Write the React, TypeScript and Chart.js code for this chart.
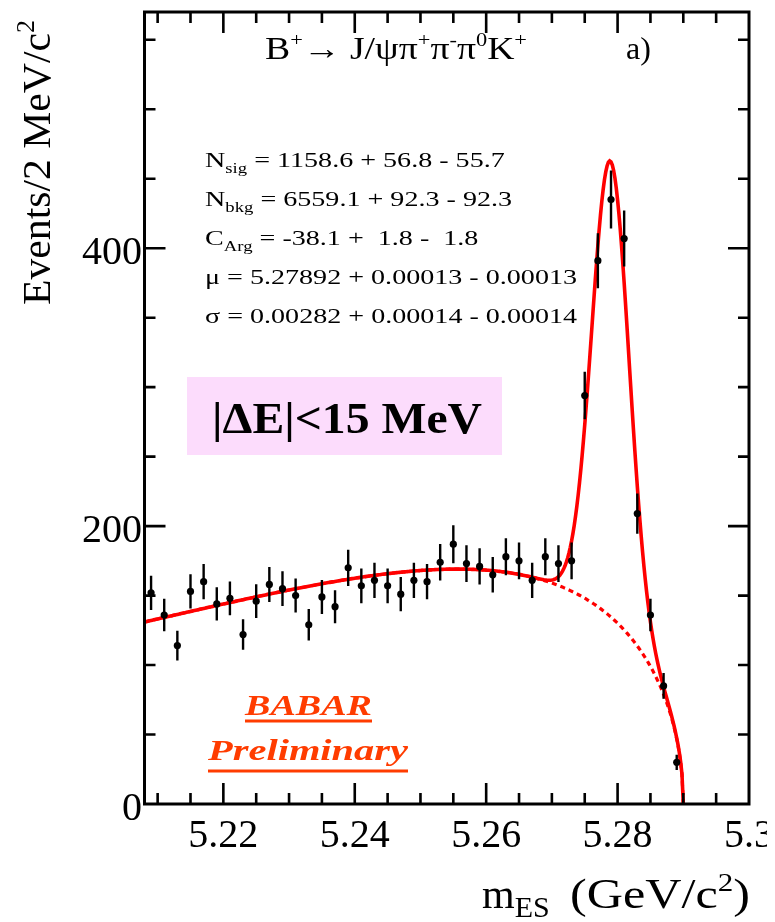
import { useEffect, useRef } from "react";
import { Chart, registerables } from "chart.js";

Chart.register(...registerables);

// ---- binned data: events per 2 MeV/c^2 bin (bin centres in GeV/c^2) ----
const BIN_CENTERS = [
  5.209, 5.211, 5.213, 5.215, 5.217, 5.219, 5.221, 5.223, 5.225, 5.227,
  5.229, 5.231, 5.233, 5.235, 5.237, 5.239, 5.241, 5.243, 5.245, 5.247,
  5.249, 5.251, 5.253, 5.255, 5.257, 5.259, 5.261, 5.263, 5.265, 5.267,
  5.269, 5.271, 5.273, 5.275, 5.277, 5.279, 5.281, 5.283, 5.285, 5.287,
  5.289,
];
const EVENTS = [
  152, 136, 114, 153, 160, 144, 148, 122, 146, 158,
  155, 150, 129, 149, 142, 170, 157, 161, 157, 151,
  161, 160, 174, 187, 173, 171, 165, 178, 175, 161,
  178, 173, 175, 294, 391, 435, 407, 209, 136, 85,
  30,
];

// ---- fit result (Gaussian signal + ARGUS background) ----
const N_SIG = 1158.6;
const N_BKG = 6559.1;
const C_ARG = -38.1;
const MU = 5.27892;
const SIGMA = 0.00282;
const M0 = 5.29; // ARGUS kinematic endpoint
const FIT_LOW = 5.2;
const FIT_HIGH = 5.3;
const BIN_WIDTH = 0.002;

// ---- axes ----
const X_MIN = 5.208;
const X_MAX = 5.3;
const Y_MIN = 0;
const Y_MAX = 570;
const X_TICKS = [5.22, 5.24, 5.26, 5.28, 5.3];
const X_TICK_LABELS = ["5.22", "5.24", "5.26", "5.28", "5.3"];
const Y_TICKS = [0, 200, 400];
const Y_TICK_LABELS = ["0", "200", "400"];
const X_MINOR_STEP = 0.005;
const Y_MINOR_STEP = 50;

// ---- text ----
const FIT_LINES = [
  { name: "N", sub: "sig", rest: " = 1158.6 + 56.8 - 55.7" },
  { name: "N", sub: "bkg", rest: " = 6559.1 + 92.3 - 92.3" },
  { name: "C", sub: "Arg", rest: " = -38.1 +  1.8 -  1.8" },
  { name: "\u03bc = 5.27892 + 0.00013 - 0.00013", sub: "", rest: "" },
  { name: "\u03c3 = 0.00282 + 0.00014 - 0.00014", sub: "", rest: "" },
];
const CUT_LABEL = "|\u0394E|<15 MeV";
const BABAR_LABEL = "BABAR";
const PRELIM_LABEL = "Preliminary";

const SERIF = '"Liberation Serif", "Times New Roman", serif';
const CANVAS_W = 759;
const CANVAS_H = 914;
const AREA = { left: 136.5, right: 741, top: 2, bottom: 796 };

// ---- fit model ----
function argus(m: number): number {
  if (m >= M0) return 0;
  const z = 1 - (m / M0) * (m / M0);
  return m * Math.sqrt(z) * Math.exp(C_ARG * z);
}
function gauss(m: number): number {
  const t = (m - MU) / SIGMA;
  return Math.exp(-0.5 * t * t);
}
function integrate(f: (m: number) => number, a: number, b: number, n = 20000) {
  const h = (b - a) / n;
  let s = 0;
  for (let i = 0; i < n; i++) s += f(a + (i + 0.5) * h);
  return s * h;
}
const ARGUS_NORM = integrate(argus, FIT_LOW, M0);
const GAUSS_NORM = integrate(gauss, FIT_LOW, FIT_HIGH);
const bkgPerBin = (m: number) => (N_BKG * BIN_WIDTH * argus(m)) / ARGUS_NORM;
const totalPerBin = (m: number) =>
  bkgPerBin(m) + (N_SIG * BIN_WIDTH * gauss(m)) / GAUSS_NORM;

function sampleCurve(f: (m: number) => number) {
  const step = 0.0002;
  const pts: { x: number; y: number }[] = [];
  const n = Math.round((M0 - X_MIN) / step);
  for (let i = 0; i <= n; i++) {
    const m = i === n ? M0 : X_MIN + i * step;
    pts.push({ x: m, y: f(m) });
  }
  return pts;
}

// ---- rich text helpers ----
type Seg = { t: string; size: number; dy?: number; font?: string };
function setFont(ctx: CanvasRenderingContext2D, s: Seg) {
  ctx.font = `${s.font ?? ""} ${s.size}px ${SERIF}`.trim();
}
function richWidth(ctx: CanvasRenderingContext2D, segs: Seg[]) {
  let w = 0;
  for (const s of segs) {
    setFont(ctx, s);
    w += ctx.measureText(s.t).width;
  }
  return w;
}
function drawRich(
  ctx: CanvasRenderingContext2D,
  segs: Seg[],
  x: number,
  y: number,
  scaleX = 1
) {
  ctx.save();
  ctx.translate(x, y);
  ctx.scale(scaleX, 1);
  ctx.textAlign = "left";
  ctx.textBaseline = "alphabetic";
  let cx = 0;
  for (const s of segs) {
    setFont(ctx, s);
    ctx.fillText(s.t, cx, s.dy ?? 0);
    cx += ctx.measureText(s.t).width;
  }
  ctx.restore();
}
function drawFitted(
  ctx: CanvasRenderingContext2D,
  segs: Seg[],
  x: number,
  y: number,
  width: number
) {
  drawRich(ctx, segs, x, y, width / richWidth(ctx, segs));
}

// inward ticks on all four sides plus the frame
const framePlugin = {
  id: "rootFrame",
  afterDatasetsDraw(chart: any) {
    const { ctx, chartArea: a, scales } = chart;
    const xs = scales.x;
    const ys = scales.y;
    ctx.save();
    ctx.strokeStyle = "#000";
    ctx.lineWidth = 2.6;
    ctx.lineCap = "butt";
    const major = 21;
    const minor = 11;
    const isMajor = (v: number, list: number[]) =>
      list.some((t) => Math.abs(t - v) < 1e-6);
    for (let v = Math.ceil(X_MIN / X_MINOR_STEP - 1e-9) * X_MINOR_STEP; v <= X_MAX + 1e-9; v += X_MINOR_STEP) {
      const px = xs.getPixelForValue(v);
      if (px <= a.left + 1 || px >= a.right - 1) continue;
      const len = isMajor(v, X_TICKS) ? major : minor;
      ctx.beginPath();
      ctx.moveTo(px, a.bottom);
      ctx.lineTo(px, a.bottom - len);
      ctx.moveTo(px, a.top);
      ctx.lineTo(px, a.top + len);
      ctx.stroke();
    }
    for (let v = Y_MIN; v <= Y_MAX + 1e-9; v += Y_MINOR_STEP) {
      const py = ys.getPixelForValue(v);
      if (py >= a.bottom - 1 || py <= a.top + 1) continue;
      const len = isMajor(v, Y_TICKS) ? major : minor;
      ctx.beginPath();
      ctx.moveTo(a.left, py);
      ctx.lineTo(a.left + len, py);
      ctx.moveTo(a.right, py);
      ctx.lineTo(a.right - len, py);
      ctx.stroke();
    }
    ctx.lineWidth = 3;
    ctx.strokeRect(a.left, a.top, a.right - a.left, a.bottom - a.top);
    ctx.restore();
  },
};

// Poisson error bars for the data points
const errorBarPlugin = {
  id: "poissonErrors",
  beforeDatasetDraw(chart: any, args: any) {
    if (args.index !== 0) return;
    const { ctx, chartArea: a, scales } = chart;
    ctx.save();
    ctx.beginPath();
    ctx.rect(a.left, a.top, a.right - a.left, a.bottom - a.top);
    ctx.clip();
    ctx.strokeStyle = "#000";
    ctx.lineWidth = 2.4;
    BIN_CENTERS.forEach((m, i) => {
      const n = EVENTS[i];
      const e = Math.sqrt(n);
      const px = scales.x.getPixelForValue(m);
      ctx.beginPath();
      ctx.moveTo(px, scales.y.getPixelForValue(n - e));
      ctx.lineTo(px, scales.y.getPixelForValue(n + e));
      ctx.stroke();
    });
    ctx.restore();
  },
};

// titles, fit summary and labels
const textPlugin = {
  id: "annotations",
  afterDraw(chart: any) {
    const { ctx } = chart;
    ctx.save();
    ctx.fillStyle = "#000";

    // decay mode
    const sup = (t: string): Seg => ({ t, size: 19, dy: -13 });
    const big = (t: string): Seg => ({ t, size: 32 });
    drawFitted(
      ctx,
      [big("B"), sup("+"), big("\u2192 J/\u03c8\u03c0"), sup("+"), big("\u03c0"), sup("-"), big("\u03c0"), sup("0"), big("K"), sup("+")],
      257, 51, 262
    );
    drawRich(ctx, [big("a)")], 618, 51);

    // fit results
    const fitSegs = FIT_LINES.map((l) => {
      const s: Seg[] = [{ t: l.name, size: 21 }];
      if (l.sub) s.push({ t: l.sub, size: 14, dy: 6 });
      if (l.rest) s.push({ t: l.rest, size: 21 });
      return s;
    });
    const k = 372 / richWidth(ctx, fitSegs[3]);
    const baselines = [159, 198, 237, 276, 315];
    fitSegs.forEach((s, i) => drawRich(ctx, s, 197, baselines[i], k));

    // selection box
    ctx.fillStyle = "#fcdcfc";
    ctx.fillRect(179, 369, 315, 78);
    ctx.fillStyle = "#000";
    drawFitted(ctx, [{ t: CUT_LABEL, size: 45, font: "bold" }], 204, 425, 270);

    // BABAR Preliminary
    ctx.fillStyle = "#ff3c00";
    ctx.strokeStyle = "#ff3c00";
    ctx.lineWidth = 3;
    drawFitted(ctx, [{ t: BABAR_LABEL, size: 30, font: "italic bold" }], 237, 707, 127);
    drawFitted(ctx, [{ t: PRELIM_LABEL, size: 30, font: "italic bold" }], 200, 752, 200);
    ctx.beginPath();
    ctx.moveTo(237, 713);
    ctx.lineTo(364, 713);
    ctx.moveTo(200, 763);
    ctx.lineTo(400, 763);
    ctx.stroke();

    // axis titles
    ctx.fillStyle = "#000";
    drawRich(ctx, [{ t: "m", size: 42 }, { t: "ES", size: 30, dy: 9 }], 474, 900);
    drawFitted(
      ctx,
      [{ t: "(GeV/c", size: 42 }, { t: "2", size: 26, dy: -17 }, { t: ")", size: 42 }],
      562, 900, 180
    );
    ctx.save();
    ctx.translate(42, 297);
    ctx.rotate(-Math.PI / 2);
    drawFitted(ctx, [{ t: "Events/2 MeV/c", size: 40 }, { t: "2", size: 25, dy: -16 }], 0, 0, 285);
    ctx.restore();

    ctx.restore();
  },
};

export default function App() {
  const ref = useRef<HTMLCanvasElement | null>(null);

  useEffect(() => {
    if (!ref.current) return;
    const tickFont = { family: SERIF, size: 40 };
    const chart = new Chart(ref.current, {
      type: "scatter",
      data: {
        datasets: [
          {
            label: "data",
            data: BIN_CENTERS.map((x, i) => ({ x, y: EVENTS[i] })),
            pointRadius: 3.6,
            pointBackgroundColor: "#000",
            pointBorderWidth: 0,
            showLine: false,
            order: 0,
          },
          {
            label: "total fit",
            data: sampleCurve(totalPerBin),
            showLine: true,
            pointRadius: 0,
            borderColor: "#ff0000",
            borderWidth: 3.6,
            tension: 0,
            order: 1,
          },
          {
            label: "background",
            data: sampleCurve(bkgPerBin),
            showLine: true,
            pointRadius: 0,
            borderColor: "#ff0000",
            borderWidth: 3.2,
            borderDash: [5, 4],
            tension: 0,
            order: 2,
          },
        ],
      },
      options: {
        animation: false,
        responsive: false,
        maintainAspectRatio: false,
        events: [],
        layout: {
          padding: { left: 0, right: CANVAS_W - AREA.right, top: AREA.top, bottom: 0 },
        },
        plugins: {
          legend: { display: false },
          tooltip: { enabled: false },
        },
        scales: {
          x: {
            type: "linear",
            min: X_MIN,
            max: X_MAX,
            grid: { display: false, drawTicks: false },
            border: { display: false },
            afterBuildTicks: (s: any) => {
              s.ticks = X_TICKS.map((value) => ({ value }));
            },
            afterFit: (s: any) => {
              s.height = CANVAS_H - AREA.bottom;
              s.paddingLeft = 0;
              s.paddingRight = 0;
            },
            ticks: {
              autoSkip: false,
              maxRotation: 0,
              padding: 8,
              color: "#000",
              font: tickFont,
              callback: (_v: any, i: number) => X_TICK_LABELS[i],
            },
          },
          y: {
            type: "linear",
            min: Y_MIN,
            max: Y_MAX,
            grid: { display: false, drawTicks: false },
            border: { display: false },
            afterBuildTicks: (s: any) => {
              s.ticks = Y_TICKS.map((value) => ({ value }));
            },
            afterFit: (s: any) => {
              s.width = AREA.left;
              s.paddingTop = 0;
              s.paddingBottom = 0;
            },
            ticks: {
              autoSkip: false,
              padding: 2.5,
              labelOffset: 5,
              color: "#000",
              font: tickFont,
              callback: (_v: any, i: number) => Y_TICK_LABELS[i],
            },
          },
        },
      },
      plugins: [errorBarPlugin, framePlugin, textPlugin],
    } as any);
    return () => chart.destroy();
  }, []);

  return (
    <canvas
      ref={ref}
      width={CANVAS_W}
      height={CANVAS_H}
      style={{ display: "block", width: CANVAS_W, height: CANVAS_H }}
    />
  );
}
